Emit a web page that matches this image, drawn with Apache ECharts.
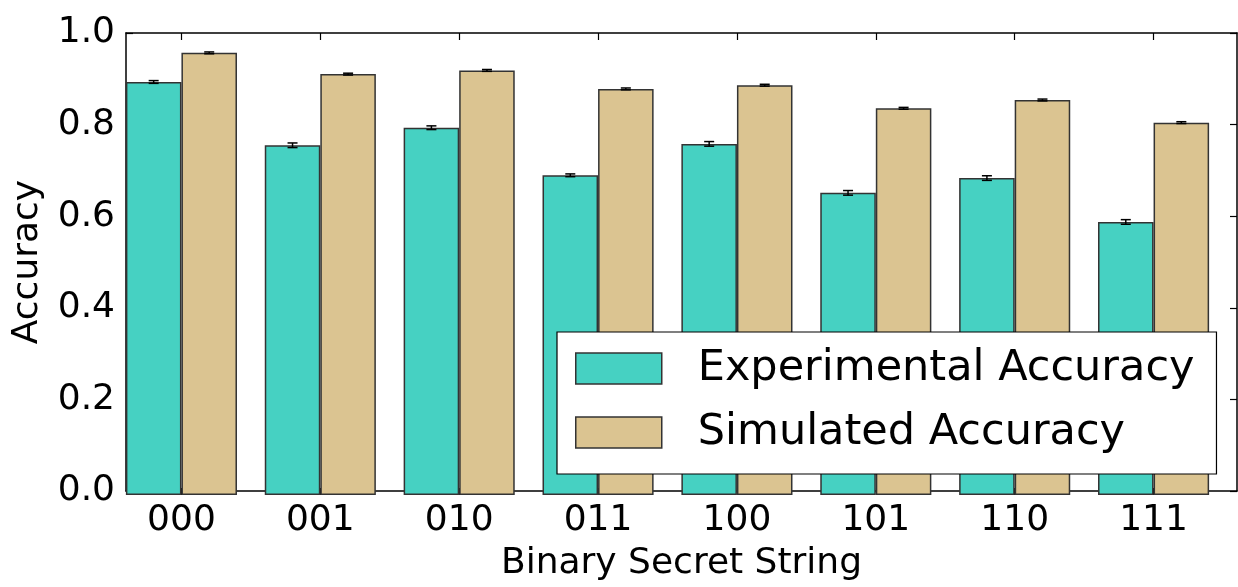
<!DOCTYPE html>
<html>
<head>
<meta charset="utf-8">
<script src="https://cdn.jsdelivr.net/npm/echarts@6/dist/echarts.min.js"></script>
<style>
  html, body { margin: 0; padding: 0; background: #ffffff; }
  #chart { width: 1238px; height: 587px; }
</style>
</head>
<body>
<div id="chart"></div>
<script>
// Accuracy per 3-bit secret string, measured vs simulated
const categories = ['000', '001', '010', '011', '100', '101', '110', '111'];
const experimental = [0.894, 0.757, 0.795, 0.692, 0.760, 0.654, 0.686, 0.591];
const experimentalErr = [0.003, 0.005, 0.004, 0.003, 0.005, 0.005, 0.005, 0.005];
const simulated = [0.957, 0.911, 0.919, 0.879, 0.887, 0.837, 0.855, 0.806];
const simulatedErr = [0.002, 0.002, 0.002, 0.002, 0.002, 0.002, 0.002, 0.002];
const yTicks = [0.0, 0.2, 0.4, 0.6, 0.8, 1.0];

const FONT = 'DejaVu Sans';
const TEAL = '#46D1C2';
const TAN = '#DBC491';
const EDGE = '#333333';
const BAR_FRACTION = 0.4; // each bar is 40% of a category band

const chart = echarts.init(document.getElementById('chart'), null, { renderer: 'canvas' });

// Error bar drawn at the centre of one bar of the pair (side -1 = left bar, +1 = right bar)
function errorBars(values, errs, side) {
  return {
    type: 'custom',
    xAxisIndex: 0,
    yAxisIndex: 0,
    z: 5,
    silent: true,
    data: values.map((v, i) => [i, v - errs[i], v + errs[i]]),
    renderItem(params, api) {
      const band = api.size([1, 0])[0];
      const off = side * band * BAR_FRACTION / 2;
      const lo = api.coord([api.value(0), api.value(1)]);
      const hi = api.coord([api.value(0), api.value(2)]);
      const x = lo[0] + off;
      const cap = 5;
      const st = { stroke: '#000', lineWidth: 1.5 };
      return {
        type: 'group',
        children: [
          { type: 'line', shape: { x1: x, y1: lo[1], x2: x, y2: hi[1] }, style: st },
          { type: 'line', shape: { x1: x - cap, y1: lo[1], x2: x + cap, y2: lo[1] }, style: st },
          { type: 'line', shape: { x1: x - cap, y1: hi[1], x2: x + cap, y2: hi[1] }, style: st }
        ]
      };
    }
  };
}

const frameLine = { show: true, onZero: false, lineStyle: { color: '#000', width: 1.5 } };

const option = {
  backgroundColor: '#ffffff',
  animation: false,
  textStyle: { fontFamily: FONT },
  grid: [
    // bar grid: bands are centred on the tick positions
    { left: 112, top: 33, width: 1111, bottom: 92 },
    // frame grid: the plotting box with its spines
    { left: 126, top: 33, width: 1111, bottom: 92 }
  ],
  xAxis: [
    {
      type: 'category', gridIndex: 0, position: 'bottom', data: categories,
      axisLine: { show: false },
      axisTick: { show: true, inside: true, alignWithLabel: true, length: 7, lineStyle: { color: '#000', width: 1.2 } },
      axisLabel: { color: '#000', fontFamily: FONT, fontSize: 36, margin: 8 },
      splitLine: { show: false }
    },
    {
      type: 'category', gridIndex: 0, position: 'top', data: categories,
      axisLine: { show: false },
      axisTick: { show: true, inside: true, alignWithLabel: true, length: 7, lineStyle: { color: '#000', width: 1.2 } },
      axisLabel: { show: false },
      splitLine: { show: false }
    },
    {
      type: 'value', gridIndex: 1, position: 'bottom', min: 0, max: 1,
      axisLine: frameLine, axisTick: { show: false }, axisLabel: { show: false }, splitLine: { show: false },
      name: 'Binary Secret String', nameLocation: 'middle', nameGap: 55,
      nameTextStyle: { color: '#000', fontFamily: FONT, fontSize: 36 }
    },
    {
      type: 'value', gridIndex: 1, position: 'top', min: 0, max: 1,
      axisLine: frameLine, axisTick: { show: false }, axisLabel: { show: false }, splitLine: { show: false }
    }
  ],
  yAxis: [
    {
      type: 'value', gridIndex: 0, min: 0, max: 1,
      axisLine: { show: false }, axisTick: { show: false }, axisLabel: { show: false }, splitLine: { show: false }
    },
    {
      type: 'value', gridIndex: 1, position: 'left', min: 0, max: 1, interval: 0.2,
      axisLine: frameLine,
      axisTick: { show: true, inside: true, length: 7, lineStyle: { color: '#000', width: 1.2 } },
      axisLabel: {
        color: '#000', fontFamily: FONT, fontSize: 36, margin: 11,
        formatter: v => (yTicks.some(t => Math.abs(t - v) < 1e-9) ? v.toFixed(1) : '')
      },
      splitLine: { show: false },
      name: 'Accuracy', nameLocation: 'middle', nameGap: 80, nameRotate: 90,
      nameTextStyle: { color: '#000', fontFamily: FONT, fontSize: 36 }
    },
    {
      type: 'value', gridIndex: 1, position: 'right', min: 0, max: 1, interval: 0.2,
      axisLine: frameLine,
      axisTick: { show: true, inside: true, length: 7, lineStyle: { color: '#000', width: 1.2 } },
      axisLabel: { show: false },
      splitLine: { show: false }
    }
  ],
  legend: {
    left: 557, top: 332,
    orient: 'vertical',
    itemWidth: 86, itemHeight: 31, itemGap: 21,
    padding: [15, 22, 20, 18],
    backgroundColor: '#ffffff',
    borderColor: '#000', borderWidth: 1.2, borderRadius: 0,
    z: 10,
    icon: 'rect',
    itemStyle: { borderColor: EDGE, borderWidth: 1.5 },
    textStyle: { color: '#000', fontFamily: FONT, fontSize: 43, lineHeight: 43, padding: [0, 0, 0, 31] },
    data: ['Experimental Accuracy', 'Simulated Accuracy']
  },
  series: [
    {
      name: 'Experimental Accuracy', type: 'bar', xAxisIndex: 0, yAxisIndex: 0,
      data: experimental, barWidth: (BAR_FRACTION * 100) + '%', barGap: '0%',
      itemStyle: { color: TEAL, borderColor: EDGE, borderWidth: 1.5 }
    },
    {
      name: 'Simulated Accuracy', type: 'bar', xAxisIndex: 0, yAxisIndex: 0,
      data: simulated, barWidth: (BAR_FRACTION * 100) + '%', barGap: '0%',
      itemStyle: { color: TAN, borderColor: EDGE, borderWidth: 1.5 }
    },
    errorBars(experimental, experimentalErr, -1),
    errorBars(simulated, simulatedErr, 1)
  ]
};

chart.setOption(option);
</script>
</body>
</html>
